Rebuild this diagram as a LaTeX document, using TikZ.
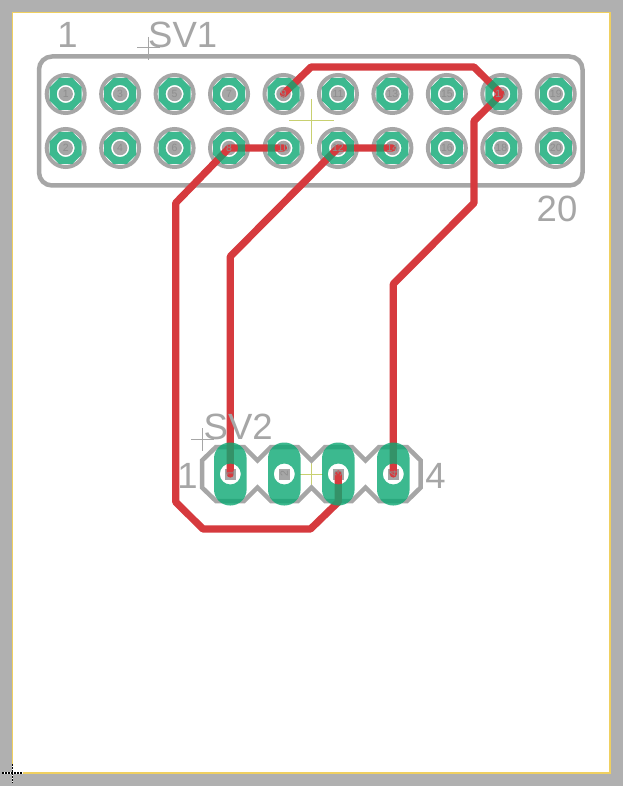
\documentclass[tikz,border=0pt]{standalone}
\usepackage{fontspec}
\setmainfont{Liberation Sans}
\definecolor{bggray}{HTML}{B0B0B0}
\definecolor{silk}{HTML}{A6A6A6}
\definecolor{board}{HTML}{F0D060}
\definecolor{padgreen}{RGB}{12,168,115}
\definecolor{wire}{HTML}{D63A3E}
\definecolor{numgray}{HTML}{8E8E8E}
\definecolor{origin}{HTML}{C8D070}
\tikzset{
  ringpad/.style={circle,draw=silk,line width=4pt,fill=white,minimum size=38pt,inner sep=0pt,outer sep=0pt},
  drillhole/.style={circle,fill=silk,minimum size=14.5pt,inner sep=0pt,outer sep=0pt},
  sqdrill/.style={rectangle,fill=silk,minimum size=11pt,inner sep=0pt,outer sep=0pt},
  trace/.style={draw=wire,line width=7.2pt,line cap=round,line join=round},
  outlinesilk/.style={draw=silk,line width=4.5pt,line join=miter},
  thincross/.style={draw=silk,line width=1pt},
  origincross/.style={draw=origin,line width=1pt},
  bigtext/.style={text=silk,inner sep=0pt,font=\fontsize{36.5}{36.5}\selectfont},
  padnum/.style={text=numgray,inner sep=0pt,font=\fontsize{10.5}{10.5}\selectfont},
  octpad/.pic={\fill[padgreen,fill opacity=.8,even odd rule]
     (16,6.6)--(6.6,16)--(-6.6,16)--(-16,6.6)--(-16,-6.6)--(-6.6,-16)--(6.6,-16)--(16,-6.6)--cycle
     (0,0) circle (9);},
  longpad/.pic={\fill[padgreen,fill opacity=.8,even odd rule,rounded corners=16pt]
     (-16.3,-31.5) rectangle (16.3,31.5) (0,0) circle (10.5);}
}
\begin{document}
\begin{tikzpicture}[x=1pt,y=-1pt]
\useasboundingbox (0,0) rectangle (623,786);
\fill[bggray] (0,0) rectangle (623,786);
\fill[white] (12.5,12.5) rectangle (610,773);
\draw[board,line width=1.5pt] (12.5,12.5) rectangle (610,773);
\draw[white,line width=1.3pt] (2,773) -- (23,773) (12.5,764) -- (12.5,783);
\draw[black,line width=1.3pt,dash pattern=on 1.5pt off 1.5pt] (2,773) -- (23,773) (12.5,764) -- (12.5,783);

% origin crosses
\draw[origincross] (289,121) -- (334,121) (311.5,99) -- (311.5,144);
\draw[origincross] (300,474) -- (323,474) (311.5,462) -- (311.5,487);

% header outlines
\draw[outlinesilk,rounded corners=13pt] (39,56.5) rectangle (582.5,185.5);
\draw[outlinesilk] (216,447) -- (244,447) -- (257.5,460.5) -- (271,447) -- (298,447) -- (311.5,460.5)
  -- (325,447) -- (352,447) -- (365.5,460.5) -- (379,447) -- (407,447) -- (420.7,460.5) -- (420.7,487.5)
  -- (407,501) -- (379,501) -- (365.5,487.5) -- (352,501) -- (325,501) -- (311.5,487.5) -- (298,501)
  -- (271,501) -- (257.5,487.5) -- (244,501) -- (216,501) -- (202,487.5) -- (202,460.5) -- cycle;

% SV1 pads: rings and drills
\foreach \i in {0,...,9}{
  \pgfmathsetmacro\px{65.7+54.45*\i}
  \pgfmathtruncatemacro\oddn{2*\i+1}
  \pgfmathtruncatemacro\evenn{2*\i+2}
  \node[ringpad] (r\oddn) at (\px,94) {};
  \node[drillhole] (p\oddn) at (\px,94) {};
  \node[ringpad] (r\evenn) at (\px,148) {};
  \node[drillhole] (p\evenn) at (\px,148) {};
}
% SV2 drills
\node[sqdrill] (s1) at (230.3,474) {};
\node[sqdrill] (s2) at (284.3,474) {};
\node[sqdrill] (s3) at (338.3,474) {};
\node[sqdrill] (s4) at (393.3,474) {};

% waypoints
\coordinate (a1) at (311,67);
\coordinate (a2) at (474,67);
\coordinate (a3) at (474,121);
\coordinate (a4) at (474,203);
\coordinate (a5) at (393.3,284);
\coordinate (b1) at (175.7,203);
\coordinate (b2) at (175.7,502);
\coordinate (b3) at (203,529);
\coordinate (b4) at (310.5,529);
\coordinate (b5) at (338.3,502);
\coordinate (c1) at (230.3,256.5);

% traces
\draw[trace] (p9.center) -- (a1) -- (a2) -- (p17.center) -- (a3) -- (a4) -- (a5) -- (s4.center);
\draw[trace] (p10.center) -- (p8.center) -- (b1) -- (b2) -- (b3) -- (b4) -- (b5) -- (s3.center);
\draw[trace] (p14.center) -- (p12.center) -- (c1) -- (s1.center);

% copper
\foreach \i in {0,...,9}{
  \pgfmathsetmacro\px{65.7+54.45*\i}
  \path (\px,94) pic {octpad};
  \path (\px,148) pic {octpad};
}
\foreach \n in {s1,s2,s3,s4}{\path (\n.center) pic {longpad};}

% pad numbers
\foreach \i in {0,...,9}{
  \pgfmathsetmacro\px{65.7+54.45*\i}
  \pgfmathtruncatemacro\oddn{2*\i+1}
  \pgfmathtruncatemacro\evenn{2*\i+2}
  \node[padnum] (tn\oddn) at (\px,94) {\oddn};
  \node[padnum] (tn\evenn) at (\px,148) {\evenn};
}
\node[padnum,rotate=90] (sn1) at (s1) {1};
\node[padnum,rotate=90] (sn2) at (s2) {2};
\node[padnum,rotate=90] (sn3) at (s3) {3};
\node[padnum,rotate=90] (sn4) at (s4) {4};

% silk labels and crosses
\draw[thincross] (137,48) -- (160,48) (148.5,37) -- (148.5,60);
\draw[thincross] (191,439) -- (214,439) (202,428) -- (202,451);
\node[bigtext,anchor=base] (l1) at (67.5,48) {1};
\node[bigtext,anchor=base west] (lsv1) at (148,48) {SV1};
\node[bigtext,anchor=base] (l20) at (557,221.5) {20};
\node[bigtext,anchor=base west] (lsv2) at (203.5,439) {SV2};
\node[bigtext,anchor=base] (lp1) at (187.5,488) {1};
\node[bigtext,anchor=base] (lp4) at (435.5,488) {4};
\end{tikzpicture}
\end{document}
